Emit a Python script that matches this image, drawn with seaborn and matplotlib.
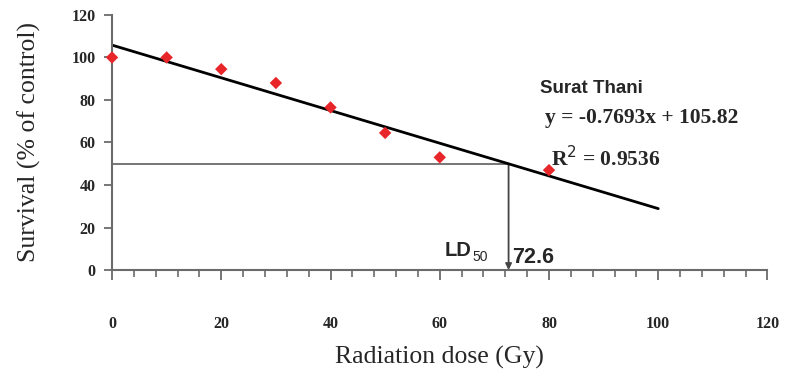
import matplotlib.pyplot as plt
import numpy as np
import pandas as pd
import seaborn as sns
from matplotlib.ticker import MultipleLocator

# survival data
dose = [0, 10, 20, 30, 40, 50, 60, 80]
survival = [100, 100, 94.5, 88, 76.5, 64.5, 53, 47]

# fitted line reported on the chart
slope = -0.7693
intercept = 105.82
r2 = 0.9536
fit_x = [0, 100]
ld50 = 72.6

sns.set_theme(style="white")
plt.rcParams["font.family"] = ["Liberation Serif", "DejaVu Serif"]

fig = plt.figure(figsize=(7.85, 3.74), dpi=100)
ax = fig.add_axes([0.1427, 0.278, 0.835, 0.682])

pts = pd.DataFrame({"dose": dose, "survival": survival})
fit = pd.DataFrame({"dose": fit_x, "survival": [slope * v + intercept for v in fit_x]})

gray = "#6b6b6b"
# LD50 guide lines
ax.plot([0, ld50], [50, 50], color=gray, lw=1.3, zorder=1)
ax.annotate("", xy=(ld50, 0), xytext=(ld50, 50),
            arrowprops=dict(arrowstyle="-|>", color="#444444", lw=1.3,
                            mutation_scale=9, shrinkA=0, shrinkB=0), zorder=1)

sns.lineplot(data=fit, x="dose", y="survival", color="black", lw=2, ax=ax, zorder=2)
sns.scatterplot(data=pts, x="dose", y="survival", marker="D", color="#e8262a",
                s=40, edgecolor="none", ax=ax, zorder=3, clip_on=False)

ax.set_xlim(0, 120)
ax.set_ylim(0, 120)
ax.xaxis.set_major_locator(MultipleLocator(20))
ax.xaxis.set_minor_locator(MultipleLocator(4))
ax.yaxis.set_major_locator(MultipleLocator(20))

for side in ["top", "right"]:
    ax.spines[side].set_visible(False)
for side in ["left", "bottom"]:
    ax.spines[side].set_color(gray)
    ax.spines[side].set_linewidth(1.5)

ax.tick_params(axis="x", which="major", direction="out", length=7, width=1.3,
               color=gray, pad=26, labelsize=11.5)
ax.tick_params(axis="x", which="minor", direction="out", length=5, width=1.2,
               color=gray)
ax.tick_params(axis="y", which="major", direction="out", length=6, width=1.3,
               color=gray, pad=6, labelsize=11.5)
ax.tick_params(bottom=True, left=True, which="both")
for lab in ax.get_xticklabels() + ax.get_yticklabels():
    lab.set_fontweight("bold")

ax.set_xlabel("Radiation dose (Gy)", fontsize=18.5, labelpad=10)
ax.set_ylabel("Survival (% of control)", fontsize=18.5, labelpad=22)

sans = ["Liberation Sans", "DejaVu Sans"]
ax.text(78.4, 85.6, "Surat Thani", fontsize=13.5, fontweight="bold", family=sans,
        va="center")
ax.text(79.3, 71.5, f"y = {slope}x + {intercept}", fontsize=15.5, fontweight="bold",
        va="center")
ax.text(80.4, 52.5, f"R$^{{2}}$ = {r2}", fontsize=15.5, fontweight="bold",
        va="center")
# LD50 label: main text plus a smaller lowered subscript
ax.text(65.8, 6.6, "LD", fontsize=14.5, fontweight="bold", family=sans,
        ha="right", va="baseline")
ax.text(65.9, 4.2, "50", fontsize=10, family=sans, va="baseline")
ax.text(73.2, 3.2, f"{ld50}", fontsize=15.5, fontweight="bold", family=sans,
        va="baseline")

fig.savefig("out.png", dpi=100)
